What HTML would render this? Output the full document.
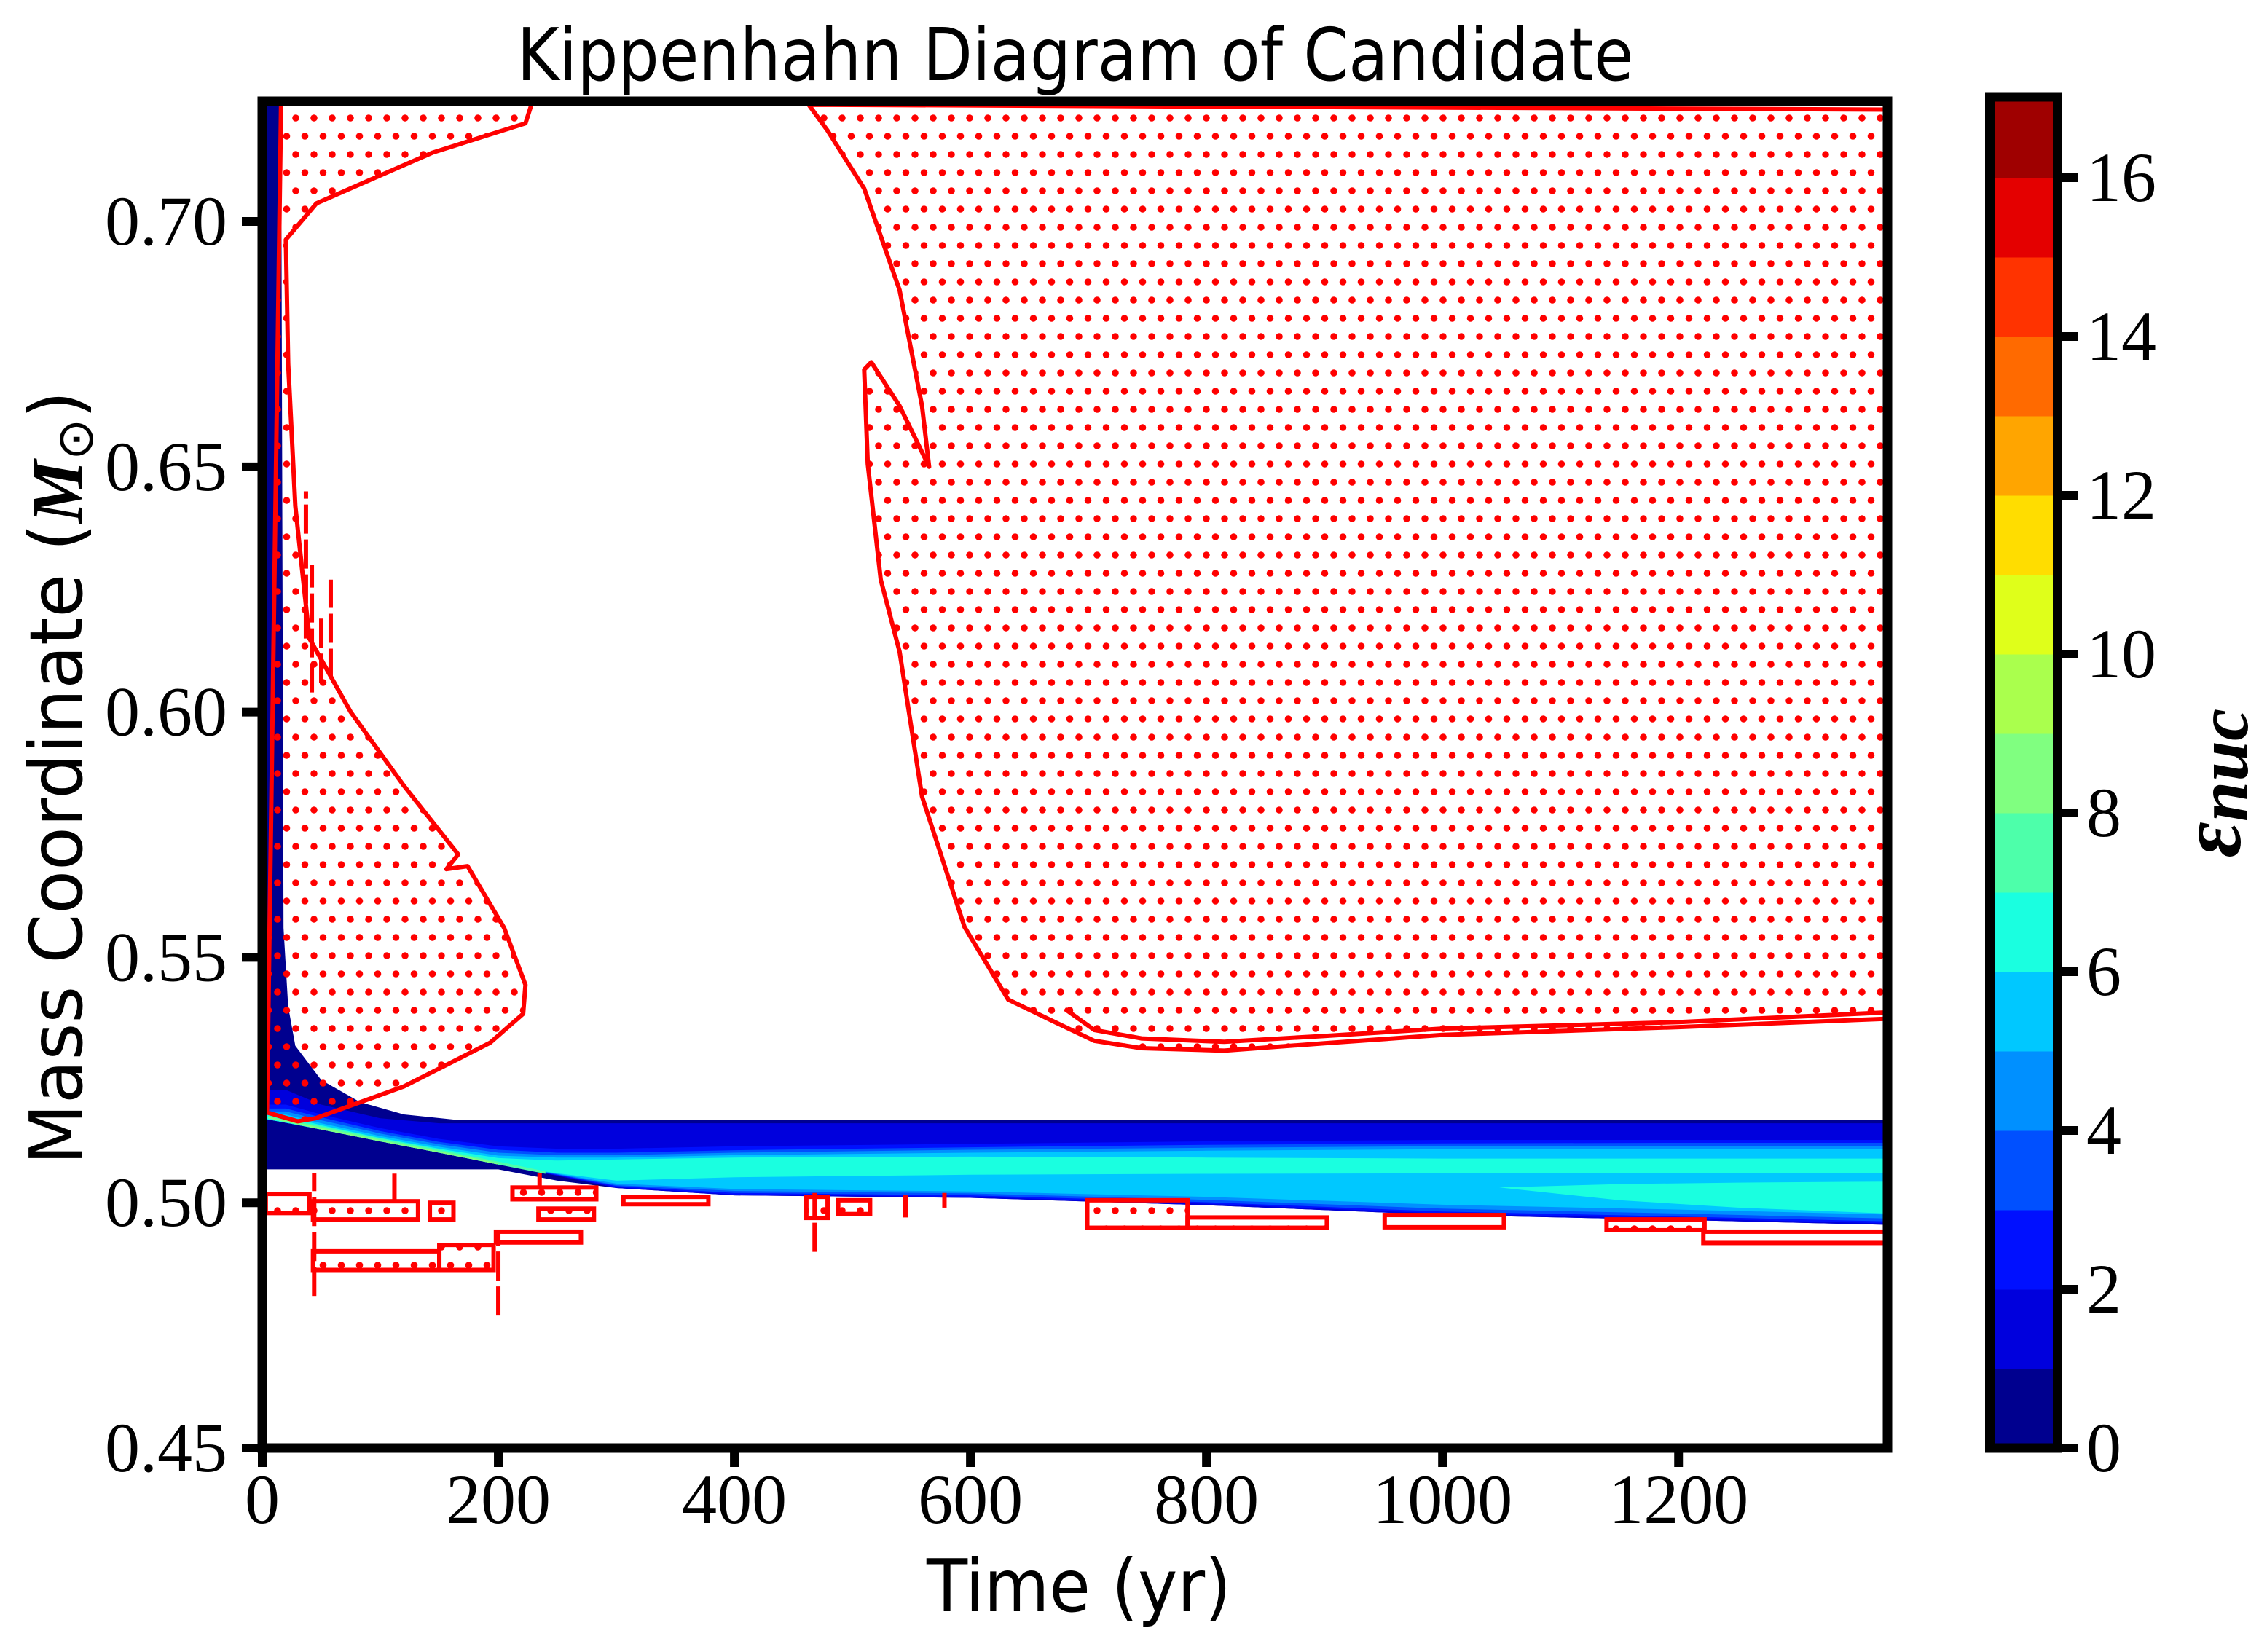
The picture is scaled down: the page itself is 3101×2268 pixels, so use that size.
<!DOCTYPE html>
<html><head><meta charset="utf-8"><style>
html,body{margin:0;padding:0;background:#fff;}
svg{display:block;}
text{font-family:"Liberation Serif",serif;}
.sans{font-family:"DejaVu Sans","Liberation Sans",sans-serif;}
</style></head><body>
<svg id="chart" xmlns="http://www.w3.org/2000/svg" width="3101" height="2268" viewBox="0 0 3101 2268">
<defs>
<pattern id="dots" patternUnits="userSpaceOnUse" width="25" height="50">
<circle cx="6" cy="12" r="4.8" fill="#ff0000"/>
<circle cx="18.5" cy="37" r="4.8" fill="#ff0000"/>
</pattern>
<clipPath id="plotclip"><rect x="360" y="139" width="2231" height="1849"/></clipPath>
</defs>
<rect width="3101" height="2268" fill="#fff"/>
<g id="plot" clip-path="url(#plotclip)"></g>
<g id="axes"></g>
<g id="cbar"></g>
<text class="sans" x="1476" y="110" font-size="100" text-anchor="middle" textLength="1533" lengthAdjust="spacingAndGlyphs">Kippenhahn Diagram of Candidate</text>
<text class="sans" x="1481" y="2212" font-size="100" text-anchor="middle" textLength="418" lengthAdjust="spacingAndGlyphs">Time (yr)</text>
<text class="sans" transform="translate(112,1068) rotate(-90)" font-size="100" text-anchor="middle" textLength="1063" lengthAdjust="spacingAndGlyphs">Mass Coordinate (<tspan font-family="Liberation Serif" font-style="italic" font-weight="bold">M</tspan><tspan font-family="DejaVu Sans" font-size="70" dy="15">⊙</tspan><tspan dy="-15">)</tspan></text>
<text transform="translate(3075,1075) rotate(-90)" font-size="120" font-style="italic" font-weight="bold" text-anchor="middle">ε<tspan font-size="100" dy="10">nuc</tspan></text>
</svg>
<script>
// ---- axis domains ----
const xDomain = [0, 1377];
const yDomain = [0.45, 0.7245];
const xTicks = [0, 200, 400, 600, 800, 1000, 1200];
const xTickLabels = ["0", "200", "400", "600", "800", "1000", "1200"];
const yTicks = [0.45, 0.50, 0.55, 0.60, 0.65, 0.70];
const yTickLabels = ["0.45", "0.50", "0.55", "0.60", "0.65", "0.70"];
const cbTicks = [0, 2, 4, 6, 8, 10, 12, 14, 16];
const cbLevels = [0,1,2,3,4,5,6,7,8,9,10,11,12,13,14,15,16,17];
const levelColors = ["#00008f","#0000dd","#0010ff","#0050ff","#0090ff","#00c8ff","#1affe0","#4dffaa","#80ff80","#aaff4d","#dfff1a","#ffdd00","#ffa500","#ff6a00","#ff3300","#e40000","#9f0000"];

// ---- energy generation band (filled contour layers) ----
const stripT = [0, 16, 18, 22, 28, 50, 83, 120, 168, 1377];
const stripTop = [0.7245, 0.7245, 0.556, 0.540, 0.532, 0.525, 0.5205, 0.518, 0.5168, 0.5168];
const bandT = [0, 20, 50, 100, 150, 200, 250, 300, 400, 600, 800, 1000, 1200, 1377];
const bandBottom = [0.5068, 0.5068, 0.5068, 0.5068, 0.5068, 0.5068, 0.5045, 0.5030, 0.5015, 0.5010, 0.4995, 0.4975, 0.4965, 0.4955];
const l1Top = [0.5230, 0.5230, 0.5200, 0.5172, 0.5162, 0.5162, 0.5162, 0.5162, 0.5162, 0.5162, 0.5162, 0.5162, 0.5162, 0.5162];
const l1Bot = [0.5172, 0.5163, 0.5149, 0.5125, 0.5102, 0.5078, 0.5055, 0.5030, 0.5015, 0.5010, 0.4995, 0.4975, 0.4965, 0.4955];
const l2Top = [0.5200, 0.5200, 0.5180, 0.5152, 0.5130, 0.5115, 0.5110, 0.5110, 0.5115, 0.5120, 0.5125, 0.5128, 0.5128, 0.5128];
const l2Bot = [0.5172, 0.5163, 0.5149, 0.5125, 0.5102, 0.5078, 0.5056, 0.5032, 0.5017, 0.5012, 0.4998, 0.4978, 0.4968, 0.4958];
const l3Top = [0.5192, 0.5192, 0.5174, 0.5146, 0.5124, 0.5108, 0.5102, 0.5102, 0.5107, 0.5113, 0.5118, 0.5121, 0.5122, 0.5122];
const l3Bot = [0.5172, 0.5163, 0.5149, 0.5125, 0.5102, 0.5078, 0.5057, 0.5034, 0.5020, 0.5015, 0.5001, 0.4982, 0.4972, 0.4962];
const l4Top = [0.5186, 0.5186, 0.5168, 0.5141, 0.5119, 0.5102, 0.5097, 0.5097, 0.5102, 0.5108, 0.5112, 0.5115, 0.5116, 0.5116];
const l4Bot = [0.5172, 0.5163, 0.5149, 0.5125, 0.5102, 0.5078, 0.5058, 0.5036, 0.5024, 0.5019, 0.5006, 0.4988, 0.4978, 0.4968];
const l5Top = [0.5182, 0.5180, 0.5162, 0.5136, 0.5114, 0.5096, 0.5092, 0.5092, 0.5097, 0.5102, 0.5106, 0.5109, 0.5110, 0.5110];
const l5Bot = [0.5172, 0.5163, 0.5149, 0.5125, 0.5102, 0.5078, 0.5059, 0.5039, 0.5028, 0.5023, 0.5012, 0.4996, 0.4986, 0.4976];
const l6Top = [0.5179, 0.5176, 0.5158, 0.5132, 0.5110, 0.5091, 0.5086, 0.5088, 0.5092, 0.5094, 0.5092, 0.5090, 0.5090, 0.5090];
const l6Bot = [0.5172, 0.5163, 0.5149, 0.5125, 0.5102, 0.5078, 0.5060, 0.5045, 0.5052, 0.5057, 0.5059, 0.5060, 0.5060, 0.5060];
const coreT = [1048, 1150, 1250, 1377];
const coreTop = [0.5031, 0.5038, 0.5041, 0.5043];
const coreBot = [0.5031, 0.5005, 0.4990, 0.4978];
const l7T = [5, 50, 100, 150, 200, 240];
const l7Top = [0.5177, 0.5156, 0.5131, 0.5108, 0.5084, 0.5064];
const l7Bot = [0.5172, 0.5149, 0.5125, 0.5102, 0.5078, 0.5059];
const l8T = [5, 50, 100, 150, 200];
const l8Top = [0.5175, 0.5153, 0.5128, 0.5105, 0.5081];

// ---- convective regions ----
const convLeft = [[16,0.7245],[229,0.7245],[223,0.7200],[144,0.7140],[46,0.7037],[20,0.6963],[22,0.6710],[28,0.6420],[40,0.6150],[75,0.6000],[120,0.5850],[166,0.5710],[156,0.5680],[174,0.5686],[205,0.5560],[223,0.5444],[221,0.5385],[193,0.5326],[120,0.5237],[45,0.5172],[30,0.5166],[4,0.5184]];
const convRight = [[463,0.7238],[1377,0.7228],[1377,0.5375],[1200,0.5358],[1000,0.5342],[900,0.5325],[815,0.5310],[745,0.5315],[705,0.5330],[670,0.5370],[632,0.5414],[595,0.5562],[559,0.5828],[540,0.6123],[524,0.6270],[513,0.6506],[510,0.6698],[516,0.6713],[540,0.6624],[565,0.6500],[559,0.6624],[540,0.6860],[510,0.7067],[479,0.7185]];
const convRightInner = [[680,0.5395],[705,0.5352],[745,0.5335],[815,0.5328],[900,0.5340],[1000,0.5355],[1200,0.5368],[1377,0.5388]];
const convBoxes = [[3,40,0.4979,0.5018],[43,132,0.4966,0.5003],[142,162,0.4966,0.5000],[43,150,0.4863,0.4901],[150,196,0.4863,0.4914],[198,270,0.4919,0.4941],[212,283,0.5007,0.5031],[234,281,0.4966,0.4988],[306,378,0.4997,0.5012],[461,479,0.4969,0.5012],[488,515,0.4977,0.5005],[699,784,0.4949,0.5005],[784,902,0.4949,0.4970],[951,1052,0.4950,0.4975],[1139,1222,0.4944,0.4966],[1221,1377,0.4918,0.4941]];
const convSpikes = [[44,0.4810,0.5060],[200,0.4770,0.4940],[112,0.5000,0.5060],[235,0.5030,0.5060],[468,0.4900,0.5020],[545,0.4970,0.5015],[578,0.4990,0.5020],[37,0.6150,0.6450],[42,0.6040,0.6300],[50,0.6060,0.6200],[58,0.6070,0.6270],[1,0.4850,0.4980]];

const NS = "http://www.w3.org/2000/svg";
const X = t => 360 + (t - xDomain[0]) / (xDomain[1] - xDomain[0]) * 2231;
const Y = m => 1988 - (m - yDomain[0]) / (yDomain[1] - yDomain[0]) * 1849;
function mk(tag, attrs, parent){ const e=document.createElementNS(NS,tag); for(const k in attrs) e.setAttribute(k,attrs[k]); parent.appendChild(e); return e; }
const plot = document.getElementById('plot');
const axes = document.getElementById('axes');
const cbar = document.getElementById('cbar');

function bandPath(tT, top, tB, bot){
  let d = "";
  for (let i=0;i<tT.length;i++) d += (i? "L":"M") + X(tT[i]).toFixed(1)+","+Y(top[i]).toFixed(1);
  for (let i=tB.length-1;i>=0;i--) d += "L" + X(tB[i]).toFixed(1)+","+Y(bot[i]).toFixed(1);
  return d+"Z";
}
const layers = [
  [stripT, stripTop, bandT, bandBottom, 0],
  [bandT, l1Top, bandT, l1Bot, 1],
  [bandT, l2Top, bandT, l2Bot, 2],
  [bandT, l3Top, bandT, l3Bot, 3],
  [bandT, l4Top, bandT, l4Bot, 4],
  [bandT, l5Top, bandT, l5Bot, 5],
  [bandT, l6Top, bandT, l6Bot, 6],
  [coreT, coreTop, coreT, coreBot, 6],
  [l7T, l7Top, l7T, l7Bot, 7],
  [l8T, l8Top, l7T.slice(0,5), l7Bot.slice(0,5), 8]
];
layers.forEach((L, i) => {
  const p = mk('path', {d: bandPath(L[0],L[1],L[2],L[3]), fill: levelColors[L[4]]}, plot);
  
  
});

function polyPath(pts, close){ return pts.map((p,i)=>(i?"L":"M")+X(p[0]).toFixed(1)+","+Y(p[1]).toFixed(1)).join("") + (close?"Z":""); }
const cl = mk('path', {d: polyPath(convLeft,true), fill:'url(#dots)', stroke:'#ff0000', 'stroke-width':6, 'stroke-linejoin':'round'}, plot);


const cr = mk('path', {d: polyPath(convRight,true), fill:'url(#dots)', stroke:'#ff0000', 'stroke-width':6, 'stroke-linejoin':'round'}, plot);


const cri = mk('path', {d: polyPath(convRightInner,false), fill:'none', stroke:'#ff0000', 'stroke-width':6}, plot);


convBoxes.forEach(b => {
  const r = mk('rect', {x:X(b[0]), y:Y(b[3]), width:X(b[1])-X(b[0]), height:Y(b[2])-Y(b[3]), fill:'url(#dots)', stroke:'#ff0000', 'stroke-width':6}, plot);
  
  
});
convSpikes.forEach(s => {
  const l = mk('line', {x1:X(s[0]), x2:X(s[0]), y1:Y(s[1]), y2:Y(s[2]), stroke:'#ff0000', 'stroke-width':6, 'stroke-dasharray':'40,8'}, plot);
  
  
});

// ---- axes frame, ticks ----
const frame = mk('rect', {x:360, y:139, width:2231, height:1849, fill:'none', stroke:'#000', 'stroke-width':13}, axes);


xTicks.forEach((t,i) => {
  const tk = mk('line', {x1:X(t), x2:X(t), y1:1988, y2:2014, stroke:'#000', 'stroke-width':12}, axes);
  
  
  const tx = mk('text', {x:X(t), y:2091, 'font-size':96, 'text-anchor':'middle'}, axes);
  tx.textContent = xTickLabels[i];
  
  
});
yTicks.forEach((m,i) => {
  const tk = mk('line', {x1:332, x2:360, y1:Y(m), y2:Y(m), stroke:'#000', 'stroke-width':12}, axes);
  
  
  const tx = mk('text', {x:312, y:Y(m)+32, 'font-size':96, 'text-anchor':'end'}, axes);
  tx.textContent = yTickLabels[i];
  
  
});

// ---- colorbar ----
const CY = v => 1988 - v * 109;
for (let i=0;i<cbLevels.length-1;i++){
  const r = mk('rect', {x:2738, y:CY(cbLevels[i+1]), width:80, height:CY(cbLevels[i])-CY(cbLevels[i+1])+0.5, fill:levelColors[i]}, cbar);
  
  
}
const cf = mk('rect', {x:2731.5, y:133, width:93, height:1855, fill:'none', stroke:'#000', 'stroke-width':13}, cbar);


cbTicks.forEach(v => {
  const tk = mk('line', {x1:2824, x2:2853, y1:CY(v), y2:CY(v), stroke:'#000', 'stroke-width':12}, cbar);
  
  
  const tx = mk('text', {x:2864, y:CY(v)+32, 'font-size':96}, cbar);
  tx.textContent = String(v);
  
  
});
</script>
</body></html>
